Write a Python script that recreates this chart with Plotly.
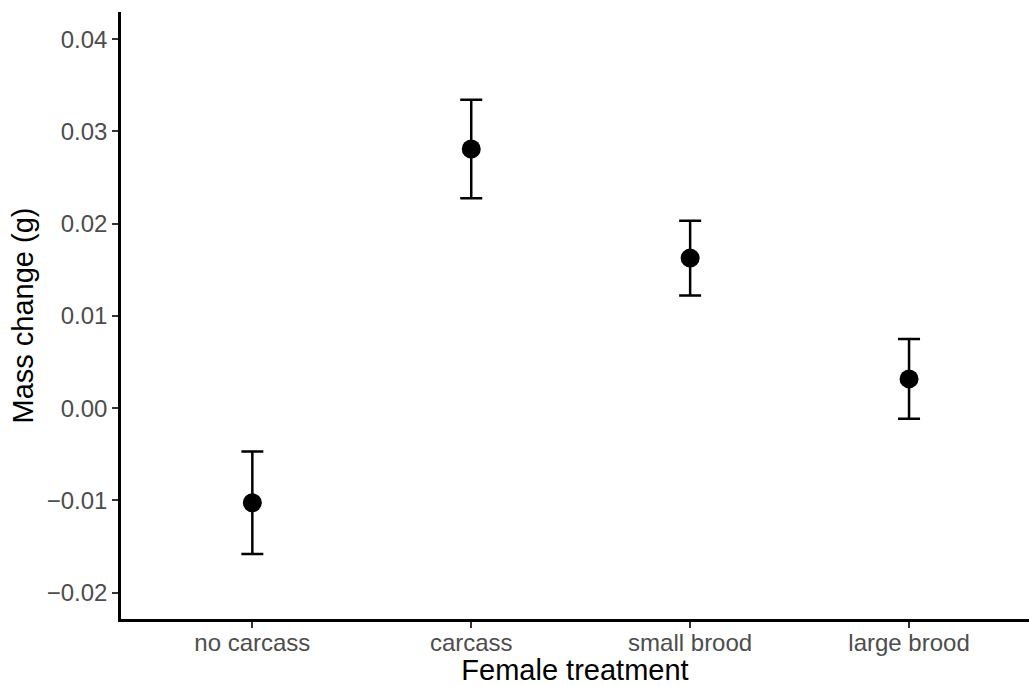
import plotly.graph_objects as go

categories = ["no carcass", "carcass", "small brood", "large brood"]
mean_change = [-0.01025, 0.02809, 0.01627, 0.00318]
se_change = [0.00555, 0.00534, 0.00405, 0.00433]

y_tickvals = [-0.02, -0.01, 0.00, 0.01, 0.02, 0.03, 0.04]
y_ticktext = ["\u22120.02", "\u22120.01", "0.00", "0.01", "0.02", "0.03", "0.04"]

xpos = list(range(1, len(categories) + 1))

fig = go.Figure()
fig.add_trace(go.Scatter(
    x=xpos, y=mean_change, mode="markers",
    marker=dict(color="black", size=19, symbol="circle"),
    error_y=dict(type="data", array=se_change, visible=True,
                 color="black", thickness=2.5, width=11),
    showlegend=False, cliponaxis=False,
))

font_family = "Liberation Sans, Arial, sans-serif"
fig.update_layout(
    width=1029, height=686,
    margin=dict(l=121, r=0, t=12, b=67),
    paper_bgcolor="white", plot_bgcolor="white",
    font=dict(family=font_family),
    xaxis=dict(
        range=[0.4, 4.548], tickvals=xpos, ticktext=categories,
        showgrid=False, zeroline=False,
        showline=True, linecolor="black", linewidth=2.5,
        ticks="outside", ticklen=6, tickwidth=2, tickcolor="#333333",
        ticklabelstandoff=-6,
        tickfont=dict(size=24, color="#4d4d4d", family=font_family),
        title=dict(text="Female treatment", font=dict(size=29, color="black", family=font_family), standoff=10),
    ),
    yaxis=dict(
        range=[-0.02285, 0.04295], tickvals=y_tickvals, ticktext=y_ticktext,
        showgrid=False, zeroline=False,
        showline=True, linecolor="black", linewidth=2.5,
        ticks="outside", ticklen=6, tickwidth=2, tickcolor="#333333",
        tickfont=dict(size=24, color="#4d4d4d", family=font_family),
        title=dict(text="Mass change (g)", font=dict(size=29, color="black", family=font_family), standoff=5),
    ),
)

fig.write_html("out.html")
